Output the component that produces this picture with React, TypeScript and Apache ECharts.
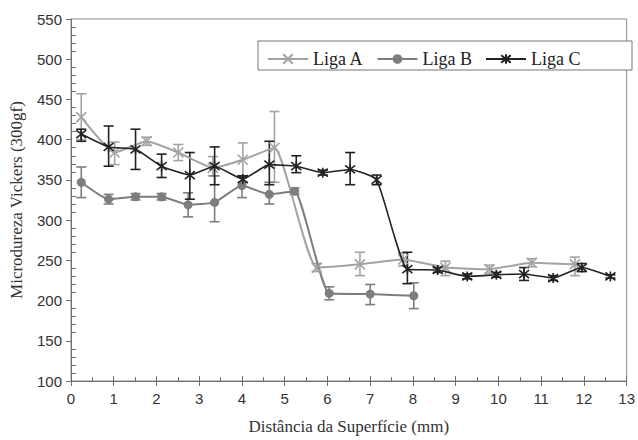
import React, { useEffect, useRef } from "react";
import * as echarts from "echarts";

// ---- data ----
const seriesNames = ["Liga A", "Liga B", "Liga C"];

const ligaAX = [0.24, 1.02, 1.77, 2.51, 3.32, 4.02, 4.76, 5.75, 6.76, 7.77, 8.76, 9.79, 10.78, 11.79];
const ligaAY = [428, 384, 398, 384, 365, 375, 390, 241, 245, 251, 241, 239, 247, 245];
const ligaALo = [400, 369, 393, 374, 355, 355, 347, 236, 231, 243, 231, 234, 242, 231];
const ligaAHi = [457, 397, 403, 394, 379, 396, 435, 246, 260, 259, 249, 244, 252, 254];

const ligaBX = [0.24, 0.88, 1.51, 2.12, 2.74, 3.36, 4.0, 4.64, 5.23, 6.04, 7.0, 8.02];
const ligaBY = [347, 326, 329, 329, 319, 322, 343, 332, 336, 209, 208, 206];
const ligaBLo = [328, 320, 325, 325, 304, 298, 328, 320, 332, 201, 195, 190];
const ligaBHi = [366, 332, 333, 333, 334, 355, 355, 347, 340, 217, 220, 222];

const ligaCX = [0.24, 0.88, 1.51, 2.12, 2.78, 3.36, 4.02, 4.64, 5.27, 5.89, 6.53, 7.15, 7.87, 8.58, 9.27, 9.95, 10.6, 11.28, 11.95, 12.62];
const ligaCY = [407, 391, 388, 367, 356, 367, 351, 369, 367, 359, 363, 350, 239, 238, 230, 232, 233, 228, 241, 230];
const ligaCLo = [398, 367, 363, 353, 326, 344, 347, 344, 359, 356, 344, 344, 221, 235, 227, 229, 225, 225, 236, 228];
const ligaCHi = [413, 417, 413, 382, 384, 391, 355, 398, 380, 362, 384, 356, 260, 241, 233, 235, 241, 231, 246, 232];

const xTicksMin = 0;
const xTicksMax = 13;
const yTicksMin = 100;
const yTicksMax = 550;

const colA = "#a3a3a3";
const colB = "#7d7d7d";
const colC = "#222222";

const symX = "path://M0,0L10,10M10,0L0,10";
const symStar = "path://M1,1L9,9M9,1L1,9M5,0L5,10";

const serif = "'Liberation Serif', 'Times New Roman', serif";
const sans = "'Liberation Sans', Arial, sans-serif";

function pts(xs: number[], ys: number[]) {
  return xs.map((x, i) => [x, ys[i]]);
}
function errs(xs: number[], lo: number[], hi: number[]) {
  return xs.map((x, i) => [x, lo[i], hi[i]]);
}

function errorSeries(name: string, data: number[][], color: string) {
  return {
    type: "custom",
    name: name + "_err",
    xAxisIndex: 0,
    yAxisIndex: 0,
    data,
    encode: { x: 0, y: [1, 2] },
    z: 1,
    silent: true,
    renderItem: (params: any, api: any) => {
      const x = api.value(0);
      const lo = api.coord([x, api.value(1)]);
      const hi = api.coord([x, api.value(2)]);
      const hw = 5;
      const style = { stroke: color, lineWidth: 1.6, fill: "none" };
      return {
        type: "group",
        children: [
          { type: "line", shape: { x1: lo[0], y1: lo[1], x2: hi[0], y2: hi[1] }, style },
          { type: "line", shape: { x1: lo[0] - hw, y1: lo[1], x2: lo[0] + hw, y2: lo[1] }, style },
          { type: "line", shape: { x1: hi[0] - hw, y1: hi[1], x2: hi[0] + hw, y2: hi[1] }, style },
        ],
      };
    },
  };
}

export default function App() {
  const ref = useRef<HTMLDivElement>(null);
  useEffect(() => {
    if (!ref.current) return;
    const chart = echarts.init(ref.current, null, { renderer: "svg" });
    const axisColor = "#707070";
    const labelStyle = { color: "#333", fontFamily: sans, fontSize: 15 };
    const nameStyle = { color: "#333", fontFamily: serif, fontSize: 17 };
    chart.setOption({
      animation: false,
      backgroundColor: "#fff",
      grid: {
        left: 69,
        right: 10,
        top: 19,
        bottom: 58,
        show: true,
        borderColor: "#888",
        borderWidth: 1,
        backgroundColor: "transparent",
      },
      legend: {
        data: seriesNames,
        left: 262,
        top: 45,
        z: 20,
        itemWidth: 40,
        itemHeight: 12,
        itemGap: 13,
        textStyle: { color: "#222", fontFamily: serif, fontSize: 18 },
      },
      graphic: [
        {
          type: "rect",
          z: 15,
          shape: { x: 258, y: 41, width: 374, height: 29 },
          style: { fill: "#fff", stroke: "#777", lineWidth: 1 },
        },
      ],
      xAxis: [
        {
          type: "value",
          min: xTicksMin,
          max: xTicksMax,
          interval: 1,
          name: "Distância da Superfície (mm)",
          nameLocation: "middle",
          nameGap: 37,
          nameTextStyle: nameStyle,
          axisLine: { lineStyle: { color: axisColor, width: 1 } },
          axisTick: { length: 5, lineStyle: { color: axisColor } },
          axisLabel: { ...labelStyle, margin: 10 },
          splitLine: { show: false },
        },
        {
          type: "value",
          min: xTicksMin,
          max: xTicksMax,
          interval: 1,
          position: "bottom",
          offset: 0,
          axisLine: { show: false },
          axisTick: { inside: true, length: 5, lineStyle: { color: axisColor } },
          minorTick: { show: true, splitNumber: 2, length: 4, lineStyle: { color: axisColor } },
          axisLabel: { show: false },
          splitLine: { show: false },
        },
      ],
      yAxis: [
        {
          type: "value",
          min: yTicksMin,
          max: yTicksMax,
          interval: 50,
          name: "Microdureza Vickers (300gf)",
          nameLocation: "middle",
          nameGap: 46,
          nameTextStyle: nameStyle,
          axisLine: { show: true, lineStyle: { color: axisColor, width: 1 } },
          axisTick: { show: true, length: 5, lineStyle: { color: axisColor } },
          axisLabel: { ...labelStyle, margin: 9 },
          splitLine: { show: false },
        },
        {
          type: "value",
          min: yTicksMin,
          max: yTicksMax,
          interval: 50,
          position: "left",
          offset: 0,
          axisLine: { show: false },
          axisTick: { show: false, inside: true },
          minorTick: { show: true, splitNumber: 5, length: 5, lineStyle: { color: axisColor } },
          axisLabel: { show: false },
          splitLine: { show: false },
        },
      ],
      series: [
        errorSeries("Liga A", errs(ligaAX, ligaALo, ligaAHi), colA),
        errorSeries("Liga B", errs(ligaBX, ligaBLo, ligaBHi), colB),
        errorSeries("Liga C", errs(ligaCX, ligaCLo, ligaCHi), colC),
        {
          type: "line",
          name: "Liga A",
          data: pts(ligaAX, ligaAY),
          smooth: 0.15,
          symbol: symX,
          symbolSize: 10,
          lineStyle: { color: colA, width: 2 },
          itemStyle: { color: colA, borderColor: colA, borderWidth: 1.6 },
          z: 3,
        },
        {
          type: "line",
          name: "Liga B",
          data: pts(ligaBX, ligaBY),
          smooth: 0.15,
          symbol: "circle",
          symbolSize: 9,
          lineStyle: { color: colB, width: 2 },
          itemStyle: { color: colB, borderColor: colB, borderWidth: 0 },
          z: 3,
        },
        {
          type: "line",
          name: "Liga C",
          data: pts(ligaCX, ligaCY),
          smooth: 0.15,
          symbol: symStar,
          symbolSize: 10,
          lineStyle: { color: colC, width: 1.6 },
          itemStyle: { color: colC, borderColor: colC, borderWidth: 1.6 },
          z: 4,
        },
      ],
    });
    return () => chart.dispose();
  }, []);
  return <div ref={ref} style={{ width: 638, height: 440, position: "absolute", left: 0, top: 0 }} />;
}
